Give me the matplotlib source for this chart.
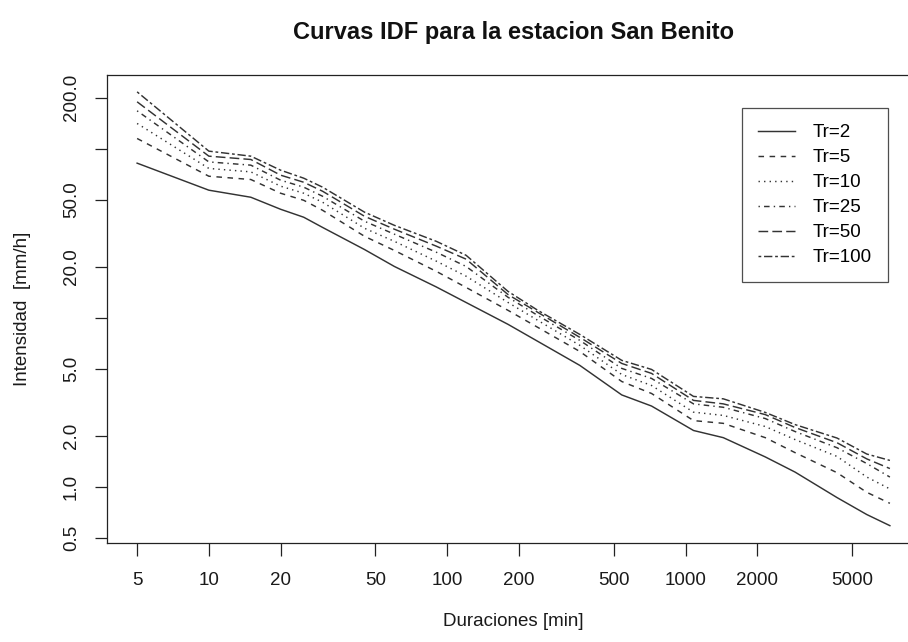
import matplotlib
matplotlib.use("Agg")
import matplotlib.pyplot as plt
from matplotlib.ticker import FixedLocator, FixedFormatter, NullLocator

# Duraciones [min]
durations = [5, 10, 15, 20, 25, 30, 45, 60, 90, 120, 180, 240, 360, 540,
             720, 1080, 1440, 2160, 2880, 4320, 5760, 7200]

# Intensidad [mm/h] for each return period
tr2 = [82.1, 56.8, 51.6, 43.8, 39.3, 34.2, 25.3, 20.1, 15.2, 12.3, 9.13, 7.24,
       5.22, 3.49, 3.00, 2.15, 1.95, 1.50, 1.22, 0.862, 0.684, 0.588]
tr5 = [114.9, 68.7, 65.7, 54.5, 49.5, 43.2, 30.3, 25.0, 18.8, 15.1, 11.05, 8.76,
       6.31, 4.19, 3.56, 2.46, 2.37, 1.95, 1.59, 1.21, 0.926, 0.797]
tr10 = [141.0, 76.4, 72.9, 60.0, 54.5, 48.2, 33.8, 28.3, 21.6, 17.6, 12.3, 9.64,
        6.86, 4.61, 3.97, 2.76, 2.64, 2.27, 1.90, 1.51, 1.14, 0.970]
tr25 = [167.5, 83.5, 79.9, 65.1, 59.2, 52.3, 37.2, 31.2, 24.4, 20.1, 13.2, 10.3,
        7.34, 5.01, 4.37, 3.09, 2.95, 2.53, 2.12, 1.70, 1.37, 1.14]
tr50 = [189.4, 90.3, 86.3, 69.7, 63.3, 56.0, 39.8, 33.4, 26.5, 22.2, 13.7, 10.75,
        7.65, 5.36, 4.68, 3.24, 3.09, 2.67, 2.24, 1.82, 1.46, 1.28]
tr100 = [216.9, 96.7, 90.3, 74.6, 66.9, 59.2, 42.1, 35.2, 28.3, 23.4, 14.3, 11.05,
         7.96, 5.59, 4.94, 3.42, 3.31, 2.75, 2.33, 1.94, 1.56, 1.43]

series = [tr2, tr5, tr10, tr25, tr50, tr100]
labels = ["Tr=2", "Tr=5", "Tr=10", "Tr=25", "Tr=50", "Tr=100"]

x_ticks = [5, 10, 20, 50, 100, 200, 500, 1000, 2000, 5000]
y_ticks = [0.5, 1, 2, 5, 10, 20, 50, 100, 200]
y_tick_labels = ["0.5", "1.0", "2.0", "5.0", "", "20.0", "50.0", "", "200.0"]

# R style line types: solid, dashed, dotted, dotdash, longdash, twodash
u = 0.95
dash_styles = [
    "-",
    (0, (4 * u, 4 * u)),
    (0, (1 * u, 3 * u)),
    (0, (1 * u, 3 * u, 4 * u, 3 * u)),
    (0, (7 * u, 3 * u)),
    (0, (2 * u, 2 * u, 6 * u, 2 * u)),
]

plt.rcParams['font.family'] = ['Liberation Sans', 'DejaVu Sans']

W, H = 908, 642
fig = plt.figure(figsize=(W / 100, H / 100), dpi=100)
# plot region in pixels (right edge falls outside the picture, as in the original)
left, right, top, bottom = 107, 920, 74.5, 543
ax = fig.add_axes([left / W, 1 - bottom / H, (right - left) / W, (bottom - top) / H])

line_color = "#333333"
for vals, ls, lab in zip(series, dash_styles, labels):
    ax.plot(durations, vals, linestyle=ls, color=line_color, linewidth=1.05, label=lab)

ax.set_xscale("log")
ax.set_yscale("log")
ax.margins(x=0.04, y=0.04)

ax.xaxis.set_major_locator(FixedLocator(x_ticks))
ax.xaxis.set_major_formatter(FixedFormatter([str(t) for t in x_ticks]))
ax.xaxis.set_minor_locator(NullLocator())
ax.yaxis.set_major_locator(FixedLocator(y_ticks))
ax.yaxis.set_major_formatter(FixedFormatter(y_tick_labels))
ax.yaxis.set_minor_locator(NullLocator())

ax.tick_params(axis="both", direction="out", length=9, width=0.9, labelsize=13.5,
               color="#222222", labelcolor="#1a1a1a")
ax.tick_params(axis="x", pad=12)
ax.tick_params(axis="y", pad=10.5)
for lab in ax.get_yticklabels():
    lab.set_rotation(90)
    lab.set_va("center")

for sp in ax.spines.values():
    sp.set_linewidth(0.9)
    sp.set_color("#222222")

leg = ax.legend(loc="upper right", bbox_to_anchor=(888 / W, 1 - 108 / H),
                bbox_transform=fig.transFigure, fontsize=13.5, frameon=True,
                fancybox=False, edgecolor="#222222", handlelength=2.0,
                handletextpad=0.95, labelspacing=0.42, borderpad=0.85,
                borderaxespad=0)
leg.get_frame().set_linewidth(0.9)

fig.text((left + right) / 2 / W, 1 - 33 / H, "Curvas IDF para la estacion San Benito",
         ha="center", va="center", fontsize=17, fontweight="bold", color="#111111")
fig.text((left + right) / 2 / W, 1 - 622 / H, "Duraciones [min]",
         ha="center", va="center", fontsize=13.5, color="#1a1a1a")
fig.text(23 / W, 1 - (top + bottom) / 2 / H, "Intensidad  [mm/h]",
         ha="center", va="center", rotation=90, fontsize=13.5, color="#1a1a1a")

fig.savefig("out.png", dpi=100)
